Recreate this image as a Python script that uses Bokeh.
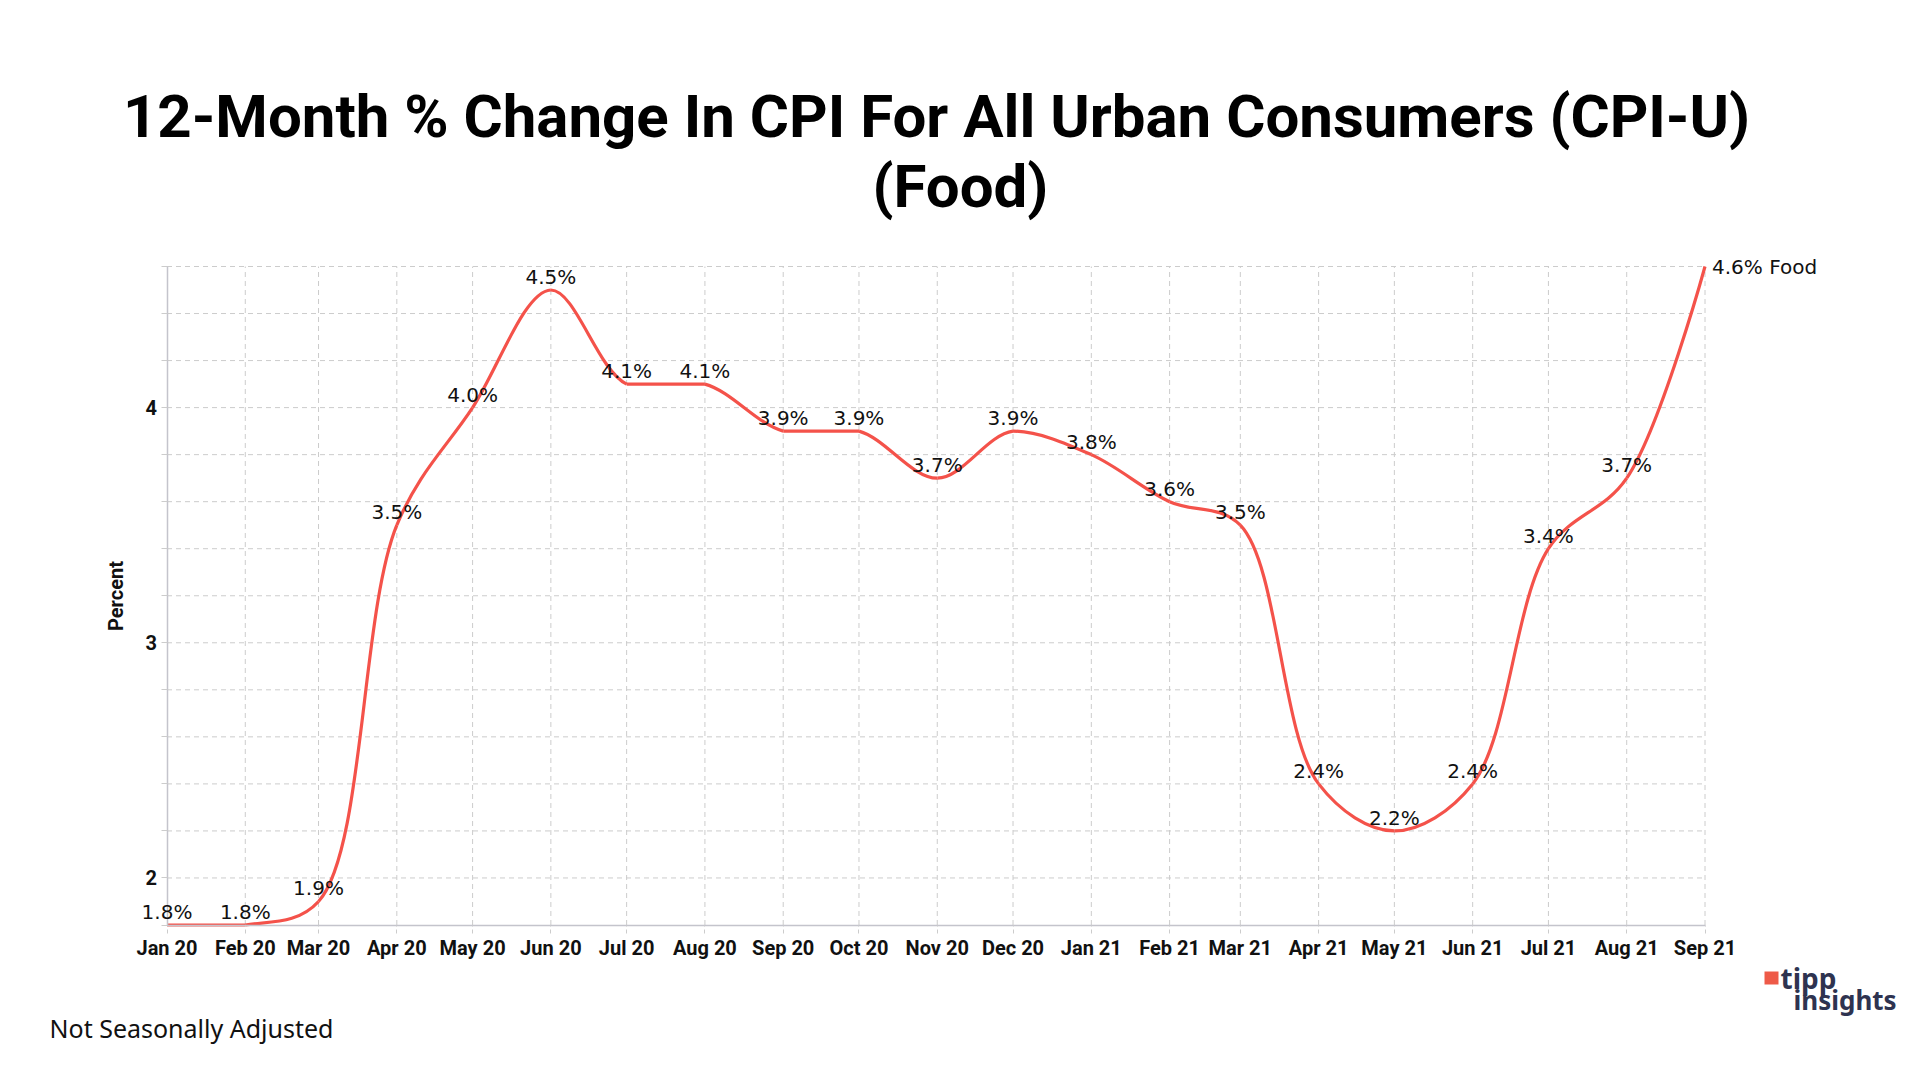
import numpy as np
import pandas as pd
from bokeh.plotting import figure
from bokeh.models import (Range1d, FixedTicker, DatetimeTickFormatter, Label,
                          LabelSet, ColumnDataSource, BoxAnnotation)
from bokeh.embed import file_html
from bokeh.resources import INLINE
from bokeh.core.properties import value

# ---------------- data ----------------
months = ["2020-01-01", "2020-02-01", "2020-03-01", "2020-04-01", "2020-05-01",
          "2020-06-01", "2020-07-01", "2020-08-01", "2020-09-01", "2020-10-01",
          "2020-11-01", "2020-12-01", "2021-01-01", "2021-02-01", "2021-03-01",
          "2021-04-01", "2021-05-01", "2021-06-01", "2021-07-01", "2021-08-01",
          "2021-09-01"]
food = [1.8, 1.8, 1.9, 3.5, 4.0, 4.5, 4.1, 4.1, 3.9, 3.9, 3.7, 3.9, 3.8, 3.6,
        3.5, 2.4, 2.2, 2.4, 3.4, 3.7, 4.6]
series_name = "Food"
y_ticks = [1.8, 2.0, 2.2, 2.4, 2.6, 2.8, 3.0, 3.2, 3.4, 3.6, 3.8, 4.0, 4.2, 4.4, 4.6]
y_tick_labels = {2.0: "2", 3.0: "3", 4.0: "4"}
y_min, y_max = 1.8, 4.6
title_line1 = "12-Month % Change In CPI For All Urban Consumers (CPI-U)"
title_line2 = "(Food)"
footnote = "Not Seasonally Adjusted"

# ---------------- layout (pixels on the page) ----------------
W, H = 1910, 1070
PL, PR, PT, PB = 166.5, 1704.5, 266.0, 924.5      # data area edges
FW, FH = PR - PL, PB - PT

xs = pd.to_datetime(months).values.astype("datetime64[ms]").astype("int64").astype(float)
ys = np.array(food, dtype=float)

ms_per_px = (xs[-1] - xs[0]) / FW
u_per_px = (y_max - y_min) / FH
x_rng = Range1d(xs[0] - PL * ms_per_px, xs[0] + (W - PL) * ms_per_px)
y_rng = Range1d(y_min - (H - PB) * u_per_px, y_max + PT * u_per_px)


def catmull_rom(x, y, alpha=0.5):
    """Bezier control points of a centripetal Catmull-Rom curve (pixel space),
    with each segment's control points kept inside its own value range."""
    sxk = 1.0 / ms_per_px
    syk = 1.0 / u_per_px
    P = np.column_stack([(x - x[0]) * sxk, (y - y_min) * syk])
    n = len(P)
    c1s, c2s = [], []
    for i in range(n - 1):
        P1, P2 = P[i], P[i + 1]
        l12 = np.hypot(*(P2 - P1))
        l12_a, l12_2a = l12 ** alpha, l12 ** (2 * alpha)
        if i > 0:
            P0 = P[i - 1]
            l01 = np.hypot(*(P1 - P0))
            l01_a, l01_2a = l01 ** alpha, l01 ** (2 * alpha)
            a = 2 * l01_2a + 3 * l01_a * l12_a + l12_2a
            nn = 3 * l01_a * (l01_a + l12_a)
            c1 = (P1 * a - P0 * l12_2a + P2 * l01_2a) / nn
        else:
            c1 = P1.copy()
        if i + 2 < n:
            P3 = P[i + 2]
            l23 = np.hypot(*(P3 - P2))
            l23_a, l23_2a = l23 ** alpha, l23 ** (2 * alpha)
            b = 2 * l23_2a + 3 * l23_a * l12_a + l12_2a
            m = 3 * l23_a * (l23_a + l12_a)
            c2 = (P2 * b + P1 * l23_2a - P3 * l12_2a) / m
        else:
            c2 = P2.copy()
        lo, hi = min(P1[1], P2[1]), max(P1[1], P2[1])
        c1[1] = min(max(c1[1], lo), hi)
        c2[1] = min(max(c2[1], lo), hi)
        c1s.append(c1)
        c2s.append(c2)
    c1s, c2s = np.array(c1s), np.array(c2s)
    return dict(x0=x[:-1], y0=y[:-1], x1=x[1:], y1=y[1:],
                cx0=x[0] + c1s[:, 0] / sxk, cy0=y_min + c1s[:, 1] / syk,
                cx1=x[0] + c2s[:, 0] / sxk, cy1=y_min + c2s[:, 1] / syk)


p = figure(width=W, height=H, x_axis_type="datetime",
           x_range=x_rng, y_range=y_rng,
           output_backend="svg", toolbar_location=None, min_border=0)
p.outline_line_color = None
p.background_fill_color = "white"
p.border_fill_color = "white"
p.xgrid.visible = False
p.ygrid.visible = False

# dashed grid lines, limited to the data area
GRID = dict(line_color="#cccccc", line_dash="5 4", line_width=1)
p.segment(x0=xs[1:], y0=[y_min] * (len(xs) - 1), x1=xs[1:], y1=[y_max] * (len(xs) - 1), **GRID)
p.segment(x0=[xs[0]] * (len(y_ticks) - 1), y0=y_ticks[1:], x1=[xs[-1]] * (len(y_ticks) - 1),
          y1=y_ticks[1:], **GRID)

# x axis
p.xaxis.fixed_location = y_min
p.xaxis.bounds = (xs[0], xs[-1])
p.xaxis.ticker = FixedTicker(ticks=list(xs))
fmt = "%b %y"
p.xaxis.formatter = DatetimeTickFormatter(months=fmt, days=fmt, years=fmt,
                                          hours=fmt, minutes=fmt)
p.xaxis.axis_line_color = "#c4c4cc"
p.xaxis.axis_line_width = 1.5
p.xaxis.major_tick_line_color = "#cccccc"
p.xaxis.major_tick_line_dash = "4 3"
p.xaxis.major_tick_in = 0
p.xaxis.major_tick_out = 8
p.xaxis.minor_tick_line_color = None
p.xaxis.major_label_text_font = "Roboto"
p.xaxis.major_label_text_font_style = "bold"
p.xaxis.major_label_text_font_size = "20px"
p.xaxis.major_label_text_color = "#111111"
p.xaxis.major_label_standoff = 3

# y axis
p.yaxis.fixed_location = xs[0]
p.yaxis.bounds = (y_min, y_max)
p.yaxis.ticker = FixedTicker(ticks=y_ticks)
p.yaxis.major_label_overrides = {t: y_tick_labels.get(t, "") for t in y_ticks}
p.yaxis.axis_line_color = "#c4c4cc"
p.yaxis.axis_line_width = 1.5
p.yaxis.major_tick_line_color = "#cccccc"
p.yaxis.major_tick_in = 0
p.yaxis.major_tick_out = 6
p.yaxis.minor_tick_line_color = None
p.yaxis.major_label_text_font = "Roboto"
p.yaxis.major_label_text_font_style = "bold"
p.yaxis.major_label_text_font_size = "20px"
p.yaxis.major_label_text_color = "#111111"
p.yaxis.major_label_standoff = 4
p.yaxis.axis_label = "Percent"
p.yaxis.axis_label_text_font = "Roboto"
p.yaxis.axis_label_text_font_style = "bold"
p.yaxis.axis_label_text_font_size = "20px"
p.yaxis.axis_label_text_color = "#111111"
p.yaxis.axis_label_standoff = 15

# line
bz = ColumnDataSource(catmull_rom(xs, ys))
p.bezier(x0="x0", y0="y0", x1="x1", y1="y1", cx0="cx0", cy0="cy0",
         cx1="cx1", cy1="cy1", source=bz, line_color="#f4524a", line_width=3.2)

# data labels
lab = ColumnDataSource(dict(x=xs[:-1], y=ys[:-1],
                            t=[f"{v:.1f}%" for v in ys[:-1]]))
p.add_layout(LabelSet(x="x", y="y", text="t", source=lab, text_align="center",
                      text_baseline="middle", y_offset=13,
                      text_font=value("DejaVu Sans"), text_font_size=value("20px"),
                      text_color="#111111"))
last = ColumnDataSource(dict(x=[xs[-1]], y=[ys[-1]],
                             t=[f"{ys[-1]:.1f}% {series_name}"]))
p.add_layout(LabelSet(x="x", y="y", text="t", source=last, text_align="left",
                      text_baseline="middle", x_offset=7,
                      text_font=value("DejaVu Sans"), text_font_size=value("20px"),
                      text_color="#111111"))


# ---------------- page texts (screen units) ----------------
def sx(page_x):
    return page_x


def sy(page_y):
    return H - page_y


def page_label(px, py, text, size, style="normal", font="Roboto",
               color="#000000", align="left"):
    p.add_layout(Label(x=sx(px), y=sy(py), x_units="screen", y_units="screen",
                       text=text, text_align=align, text_baseline="middle",
                       text_font=font, text_font_style=style,
                       text_font_size=size, text_color=color))


page_label(936, 116, title_line1, "60px", "bold", align="center")
page_label(960, 186, title_line2, "60px", "bold", align="center")
page_label(49, 1027, footnote, "25px", font="Noto Sans", color="#111111")
# logo
page_label(1780, 977, "tipp", "28px", "bold", font="Noto Sans", color="#2e3350")
page_label(1793, 999, "insights", "26px", "bold", font="Noto Sans", color="#2e3350")
p.add_layout(BoxAnnotation(left=sx(1764), right=sx(1778), top=sy(971), bottom=sy(984),
                           left_units="screen", right_units="screen",
                           top_units="screen", bottom_units="screen",
                           fill_color="#ee5a48", fill_alpha=1, line_color=None))

open("out.html", "w").write(file_html(p, INLINE))
